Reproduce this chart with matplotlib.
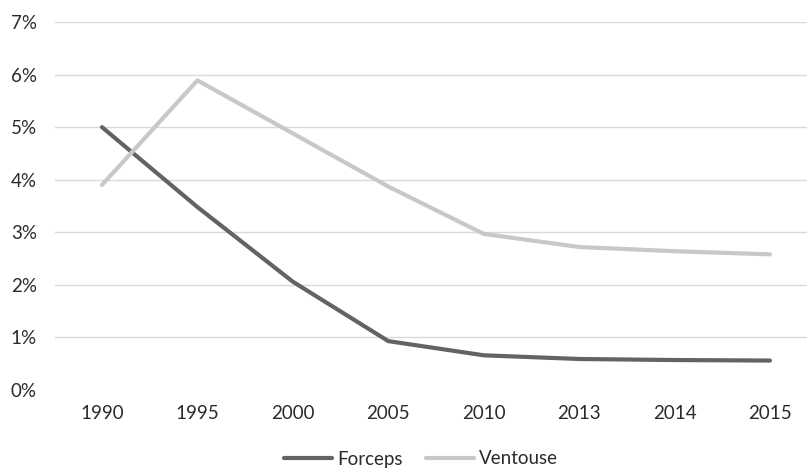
import matplotlib
matplotlib.use("Agg")
import matplotlib.pyplot as plt
from matplotlib.ticker import FuncFormatter

years = ["1990", "1995", "2000", "2005", "2010", "2013", "2014", "2015"]
forceps = [5.00, 3.48, 2.06, 0.93, 0.66, 0.59, 0.57, 0.56]
ventouse = [3.90, 5.89, 4.88, 3.87, 2.97, 2.72, 2.64, 2.58]

plt.rcParams['font.family'] = ['Lato', 'DejaVu Sans']

fig = plt.figure(figsize=(8.07, 4.68), dpi=100)
ax = fig.add_axes([55/807, 1-390/468, 1-55/807, (390-22)/468])

x = list(range(len(years)))
ax.plot(x, forceps, color="#636363", lw=3, label="Forceps", solid_capstyle="round", zorder=3)
ax.plot(x, ventouse, color="#c8c8c8", lw=3, label="Ventouse", solid_capstyle="round", zorder=3)

ax.set_xlim(-0.4925, 7.388)
ax.set_ylim(0, 7)
ax.set_yticks(range(0, 8))
ax.yaxis.set_major_formatter(FuncFormatter(lambda v, p: f"{int(v)}%"))
ax.set_xticks(x)
ax.set_xticklabels(years)
for s in ax.spines.values():
    s.set_visible(False)
ax.grid(axis="y", color="#d9d9d9", lw=1)
for gl in ax.get_ygridlines()[:1]:
    gl.set_visible(False)
ax.tick_params(axis="both", length=0, labelsize=13.5, colors="#2b2b2b")
ax.tick_params(axis="y", pad=13)
ax.tick_params(axis="x", pad=11)

leg = fig.legend(loc="center", bbox_to_anchor=(421/807, 1-459/468), ncol=2, frameon=False,
                 fontsize=13.5, handlelength=2.56, columnspacing=1.28, handletextpad=0.27)
for t in leg.get_texts():
    t.set_color("#2b2b2b")

fig.savefig("out.png", dpi=100)
